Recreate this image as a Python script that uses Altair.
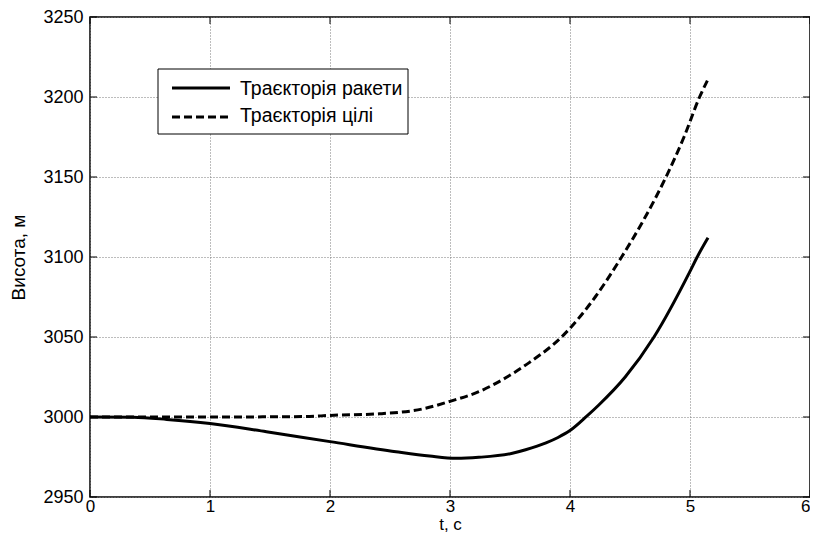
import altair as alt
import pandas as pd

# ---- data ----
t_rocket = [0, 0.36, 0.64, 1.0, 1.47, 2.0, 2.55, 2.83, 3.05, 3.24, 3.52, 3.63, 3.8,
            3.9, 4.0, 4.14, 4.24, 4.46, 4.7, 5.0, 5.06, 5.15]
h_rocket = [3000, 2999.8, 2998.5, 2996, 2990.8, 2984.6, 2978.3, 2975.6, 2974.2, 2974.8,
            2977.3, 2979.5, 2983.8, 2987.2, 2991.5, 3000.5, 3007.5, 3025, 3050, 3091, 3100, 3112]

t_target = [0, 1.0, 1.8, 2.0, 2.41, 2.77, 3.0, 3.24, 3.43, 3.66, 3.93, 4.21, 4.43,
            4.62, 4.8, 4.95, 5.08, 5.15]
h_target = [3000, 3000, 3000.3, 3001, 3002, 3005, 3009.8, 3015.8, 3023, 3034, 3050,
            3075, 3100, 3124, 3150, 3175, 3200, 3211]

x_ticks = [0, 1, 2, 3, 4, 5, 6]
y_ticks = [2950, 3000, 3050, 3100, 3150, 3200, 3250]
legend_labels = ["Траєкторія ракети", "Траєкторія цілі"]
x_title = "t, c"
y_title = "Висота, м"

FONT = "Liberation Sans"
FS = 18
W, H = 720, 480

df_r = pd.DataFrame({"t": t_rocket, "h": h_rocket})
df_t = pd.DataFrame({"t": t_target, "h": h_target})
df_xt = pd.DataFrame({"t": x_ticks})
df_yt = pd.DataFrame({"h": y_ticks})
one = pd.DataFrame({"k": [0]})

xs = alt.Scale(domain=[0, 6], nice=False, zero=False)
ys = alt.Scale(domain=[2950, 3250], nice=False, zero=False)

grid_kw = dict(grid=True, gridDash=[1, 2], gridColor="#7a7a7a", gridWidth=1, gridOpacity=1,
               ticks=False, domain=False, labelFont=FONT, titleFont=FONT,
               labelColor="black", titleColor="black",
               titleFontWeight="normal", labelFlush=False, labelOverlap=False, format="d")
ax_x = alt.Axis(values=x_ticks, title=x_title, labelPadding=1, titlePadding=2,
                labelFontSize=17, titleFontSize=17,
                labelAlign={"condition": {"test": "datum.value == 6", "value": "right"},
                            "value": "center"},
                **grid_kw)
ax_y = alt.Axis(values=y_ticks, title=y_title, labelPadding=7, titlePadding=14,
                labelFontSize=FS, titleFontSize=19, **grid_kw)

X = alt.X("t:Q", scale=xs, axis=ax_x)
Y = alt.Y("h:Q", scale=ys, axis=ax_y)

rocket = alt.Chart(df_r).mark_line(color="black", strokeWidth=3, interpolate="monotone").encode(
    x=X, y=Y)
target = alt.Chart(df_t).mark_line(color="black", strokeWidth=3, strokeDash=[8, 4],
                                   interpolate="monotone").encode(x=X, y=Y)

# inward ticks on all four sides
tk = dict(color="black", strokeWidth=1)
xb = alt.Chart(df_xt).mark_rule(**tk).encode(x=X, y=alt.value(H), y2=alt.value(H - 7))
xtop = alt.Chart(df_xt).mark_rule(**tk).encode(x=X, y=alt.value(0), y2=alt.value(7))
yl = alt.Chart(df_yt).mark_rule(**tk).encode(y=Y, x=alt.value(0), x2=alt.value(7))
yr = alt.Chart(df_yt).mark_rule(**tk).encode(y=Y, x=alt.value(W), x2=alt.value(W - 7))

# legend box
box = alt.Chart(one).mark_rect(fill="white", stroke="black", strokeWidth=1).encode(
    x=alt.value(68), x2=alt.value(318), y=alt.value(52), y2=alt.value(117))
l1 = alt.Chart(one).mark_rule(color="black", strokeWidth=3).encode(
    x=alt.value(82), x2=alt.value(140), y=alt.value(71))
l2 = alt.Chart(one).mark_rule(color="black", strokeWidth=3, strokeDash=[8, 4]).encode(
    x=alt.value(82), x2=alt.value(140), y=alt.value(100))
txt1 = alt.Chart(pd.DataFrame({"label": [legend_labels[0]]})).mark_text(
    align="left", baseline="middle", font=FONT, fontSize=19.5, color="black").encode(
    x=alt.value(150), y=alt.value(71.5), text="label:N")
txt2 = alt.Chart(pd.DataFrame({"label": [legend_labels[1]]})).mark_text(
    align="left", baseline="middle", font=FONT, fontSize=19.5, color="black").encode(
    x=alt.value(150), y=alt.value(98.5), text="label:N")

chart = alt.layer(rocket, target, xb, xtop, yl, yr, box, l1, l2, txt1, txt2).properties(
    width=W, height=H,
    autosize=alt.AutoSizeParams(type="none"),
    padding={"left": 82, "top": 9, "right": 0, "bottom": 42},
    background="white",
).configure_view(stroke="black", strokeWidth=1.5)

chart.save("out.html", embed_options={"renderer": "svg", "actions": False})
